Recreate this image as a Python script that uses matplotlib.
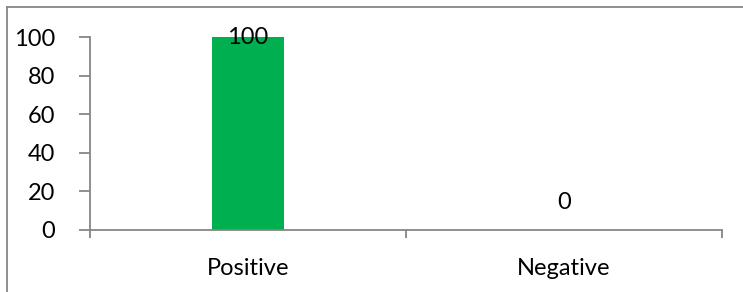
import matplotlib
matplotlib.use("Agg")
import matplotlib.pyplot as plt
from matplotlib.lines import Line2D

categories = ["Positive", "Negative"]
values = [100, 0]
y_ticks = [0, 20, 40, 60, 80, 100]

plt.rcParams['font.family'] = ['Lato', 'DejaVu Sans']

gray = "#868686"
fig = plt.figure(figsize=(7.43, 2.92), dpi=100)
ax = fig.add_axes([90 / 743, 62 / 292, 632 / 743, 193 / 292])

x = list(range(len(categories)))
ax.bar(x, values, width=0.225, color="#00B050")
for xi, v in zip(x, values):
    ax.text(xi, max(v, 14), str(v), ha="center", va="center", fontsize=17)

ax.set_xlim(-0.5, len(categories) - 0.5)
ax.set_ylim(0, 100)
ax.set_yticks(y_ticks)
ax.set_xticks(x)
ax.set_xticklabels(categories)
ax.set_xticks([-0.5, 0.5, 1.5], minor=True)

for s in ["top", "right"]:
    ax.spines[s].set_visible(False)
for s in ["left", "bottom"]:
    ax.spines[s].set_color(gray)
    ax.spines[s].set_linewidth(1.3)

ax.tick_params(axis="y", length=8, width=1.3, color=gray, pad=17, labelsize=17)
ax.tick_params(axis="x", which="major", length=0, pad=20, labelsize=17)
ax.tick_params(axis="x", which="minor", length=6, width=1.3, color=gray)

# chart frame (only top and left edges fall inside the image)
fig.add_artist(Line2D([7.5 / 743, 7.5 / 743], [0, 1 - 7 / 292], color=gray, lw=1.3))
fig.add_artist(Line2D([7.5 / 743, 1], [1 - 7 / 292, 1 - 7 / 292], color=gray, lw=1.3))

fig.savefig("out.png", dpi=100)
